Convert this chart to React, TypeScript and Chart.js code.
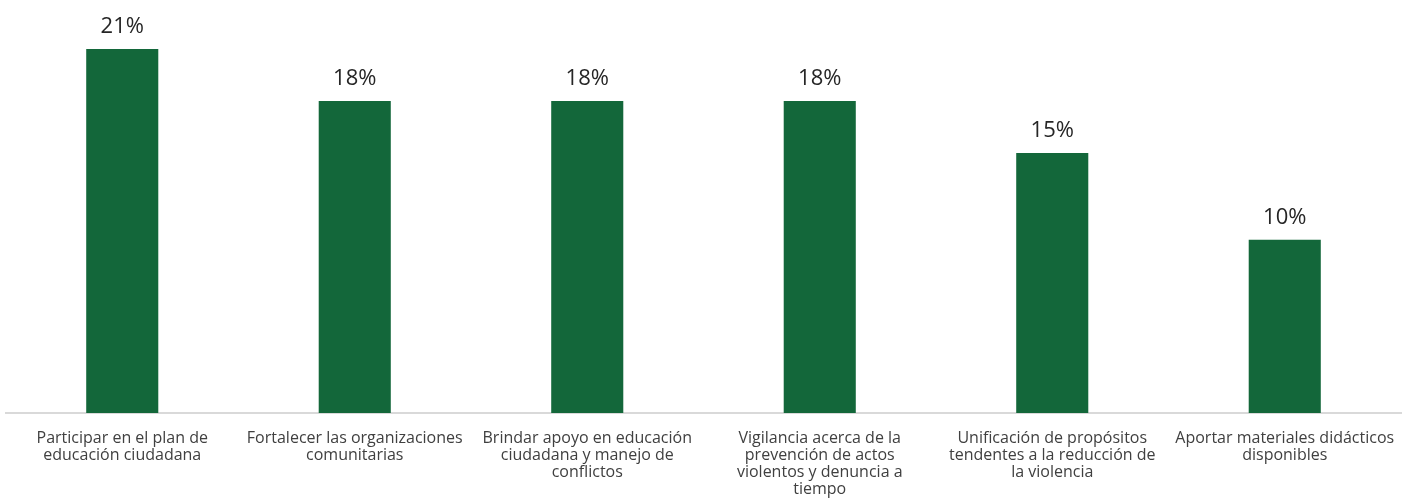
import React, { useEffect, useRef } from "react";
import { Chart, registerables } from "chart.js";

Chart.register(...registerables);

const categories: string[][] = [
  ["Participar en el plan de", "educación ciudadana"],
  ["Fortalecer las organizaciones", "comunitarias"],
  ["Brindar apoyo en educación", "ciudadana y manejo de", "conflictos"],
  ["Vigilancia acerca de la", "prevención de actos", "violentos y denuncia a", "tiempo"],
  ["Unificación de propósitos", "tendentes a la reducción de", "la violencia"],
  ["Aportar materiales didácticos", "disponibles"],
];
const values: number[] = [21, 18, 18, 18, 15, 10];

const FONT = "'Open Sans', Lato, sans-serif";

const valueLabels = {
  id: "valueLabels",
  afterDatasetsDraw(chart: any) {
    const ctx = chart.ctx;
    const meta = chart.getDatasetMeta(0);
    ctx.save();
    ctx.font = `22px ${FONT}`;
    ctx.fillStyle = "#262626";
    ctx.textAlign = "center";
    ctx.textBaseline = "alphabetic";
    meta.data.forEach((bar: any, i: number) => {
      ctx.fillText(values[i] + "%", bar.x, bar.y - 16);
    });
    ctx.restore();
  },
};

export default function App() {
  const ref = useRef<HTMLCanvasElement>(null);
  useEffect(() => {
    const chart = new Chart(ref.current!, {
      type: "bar",
      data: {
        labels: categories,
        datasets: [
          {
            data: values,
            backgroundColor: "#13673A",
            barPercentage: 0.31,
            categoryPercentage: 1,
          },
        ],
      },
      options: {
        animation: false,
        responsive: false,
        layout: { padding: { top: 49, left: 6, right: 3, bottom: 0 } },
        plugins: { legend: { display: false }, tooltip: { enabled: false } },
        scales: {
          x: {
            grid: { display: false },
            border: { color: "#d9d9d9", width: 2 },
            ticks: {
              color: "#404040",
              font: { family: FONT, size: 16, lineHeight: "17px" },
              padding: 9,
              maxRotation: 0,
              autoSkip: false,
            },
            afterFit(scale: any) {
              scale.height = 88;
            },
          },
          y: {
            display: false,
            min: 0,
            max: 21,
          },
        },
      },
      plugins: [valueLabels],
    });
    return () => chart.destroy();
  }, []);
  return (
    <div style={{ position: "fixed", left: 0, top: 0, width: 1404, height: 501, background: "#fff" }}>
      <canvas ref={ref} width={1404} height={501} />
    </div>
  );
}
